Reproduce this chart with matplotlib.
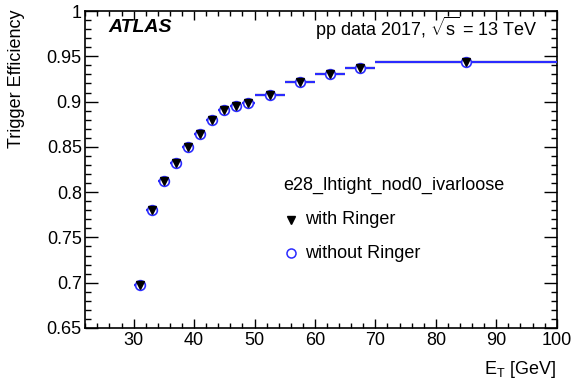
import matplotlib
matplotlib.use('Agg')
import matplotlib.pyplot as plt
from matplotlib.ticker import MultipleLocator
import numpy as np

plt.rcParams['font.family'] = ['Liberation Sans', 'DejaVu Sans']
plt.rcParams['mathtext.fontset'] = 'custom'
plt.rcParams['mathtext.rm'] = 'Liberation Sans'
plt.rcParams['mathtext.it'] = 'Liberation Sans:italic'

# bin edges in E_T [GeV]
bin_lo = [30, 32, 34, 36, 38, 40, 42, 44, 46, 48, 50, 55, 60, 65, 70]
bin_hi = [32, 34, 36, 38, 40, 42, 44, 46, 48, 50, 55, 60, 65, 70, 100]
eff_ringer = [0.698, 0.780, 0.812, 0.8325, 0.8495, 0.8645, 0.8797, 0.8904,
              0.8955, 0.8988, 0.907, 0.922, 0.9304, 0.9374, 0.944]
eff_noringer = [0.698, 0.780, 0.812, 0.8325, 0.8495, 0.8645, 0.8797, 0.8904,
                0.8955, 0.8988, 0.907, 0.922, 0.9304, 0.9374, 0.944]

lo = np.array(bin_lo)
hi = np.array(bin_hi)
x = (lo + hi) / 2.0
xerr = (hi - lo) / 2.0

fs = 13
blue = '#2b2bff'

fig = plt.figure(figsize=(5.71, 3.86), dpi=100)
ax = fig.add_axes([85.3/571, 1 - 328/386, (556.7 - 85.3)/571, (328 - 11)/386])

ax.errorbar(x, eff_ringer, xerr=xerr, fmt='none', ecolor='#333333', elinewidth=1.6, capsize=0)
ax.errorbar(x, eff_noringer, xerr=xerr, fmt='o', color=blue, mfc='white', mec=blue,
            ms=7, mew=1.2, elinewidth=1.5, capsize=0, zorder=3)
ax.plot(x, eff_ringer, 'v', color='black', ms=5.5, zorder=4)

ax.set_xlim(22, 100)
ax.set_ylim(0.65, 1.0)
ax.xaxis.set_minor_locator(MultipleLocator(2))
ax.yaxis.set_minor_locator(MultipleLocator(0.01))
ax.set_yticks([0.65, 0.7, 0.75, 0.8, 0.85, 0.9, 0.95, 1.0])
ax.set_yticklabels(['0.65', '0.7', '0.75', '0.8', '0.85', '0.9', '0.95', '1'])
ax.set_xticks([30, 40, 50, 60, 70, 80, 90, 100])
ax.set_xticklabels(['30', '40', '50', '60', '70', '80', '90', '100'])

ax.tick_params(axis='both', which='both', direction='in', top=True, right=True,
               labelsize=fs, width=1)
ax.tick_params(axis='x', which='major', length=6.5, pad=3)
ax.tick_params(axis='x', which='minor', length=3.4)
ax.tick_params(axis='y', which='major', length=9.4, pad=2.5)
ax.tick_params(axis='y', which='minor', length=4.2)
for s in ax.spines.values():
    s.set_linewidth(1.2)

ax.text(108/571, 1 - 28/386, 'ATLAS', transform=fig.transFigure, fontsize=14,
        fontweight='bold', style='italic', va='center', ha='left')
ax.text(538/571, 1 - 28/386, r'pp data 2017, $\sqrt{\mathrm{s}}$ = 13 TeV', transform=fig.transFigure,
        fontsize=fs, va='center', ha='right')
ax.text(283/571, 1 - 185/386, 'e28_lhtight_nod0_ivarloose', transform=fig.transFigure,
        fontsize=fs, va='center', ha='left')
ax.plot([291/571], [1 - 220/386], 'v', color='black', ms=6, transform=fig.transFigure, clip_on=False)
ax.text(305/571, 1 - 220/386, 'with Ringer', transform=fig.transFigure,
        fontsize=fs, va='center', ha='left')
ax.plot([291/571], [1 - 253/386], 'o', mfc='white', mec=blue, ms=6.5, mew=1.1,
        transform=fig.transFigure, clip_on=False)
ax.text(305/571, 1 - 253/386, 'without Ringer', transform=fig.transFigure,
        fontsize=fs, va='center', ha='left')

fig.text(17/571, 1 - 10/386, 'Trigger Efficiency', rotation=90, ha='center', va='top', fontsize=fs)
fig.text(556/571, 1 - 370/386, r'$\mathrm{E_T}$ [GeV]', ha='right', va='center', fontsize=fs)

plt.savefig('out.png', dpi=100)
